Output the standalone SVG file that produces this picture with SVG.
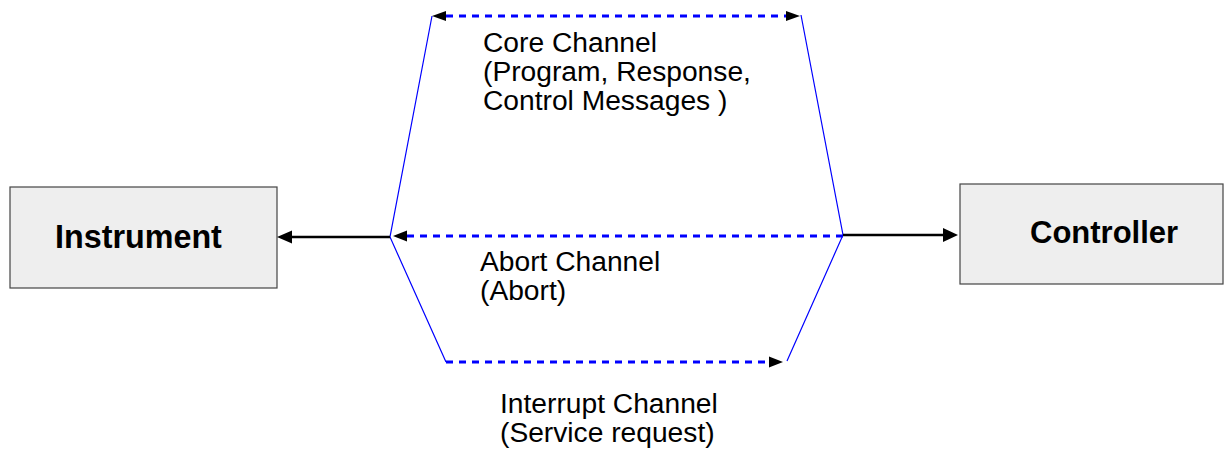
<svg xmlns="http://www.w3.org/2000/svg" width="1224" height="450" viewBox="0 0 1224 450">
<style>
.box{fill:#eeeeee;stroke:#444444;stroke-width:1.2}
.bold{font-family:"Liberation Sans",Arial,sans-serif;font-weight:bold;font-size:31px;fill:#000}
.lbl{font-family:"Liberation Sans",Arial,sans-serif;font-size:28.2px;fill:#000}
.blue{stroke:#0000ff;stroke-width:1.2;fill:none}
.dash{stroke:#0000ff;stroke-width:2.8;stroke-dasharray:7,6;fill:none}
.solid{stroke:#000;stroke-width:2.4;fill:none}
.head{fill:#000}
</style>
<g id="instrument">
<rect class="box" x="10" y="187" width="267" height="101"/>
<text class="bold" x="55" y="248" style="font-size:32.3px">Instrument</text>
</g>
<g id="controller">
<rect class="box" x="960" y="184" width="263" height="100"/>
<text class="bold" x="1030" y="243">Controller</text>
</g>
<g id="connectors">
<polyline class="blue" points="432,16 390,237 446,362"/>
<polyline class="blue" points="801,15 843,235 787,361"/>
<line class="dash" x1="446" y1="16" x2="787" y2="16"/>
<path class="head" d="M432,16 L446,11 L446,21 z"/>
<path class="head" d="M800,16 L786,11 L786,21 z"/>
<line class="dash" x1="843" y1="236" x2="406" y2="236"/>
<path class="head" d="M393,236 L407,230.5 L407,241.5 z"/>
<line class="dash" x1="446" y1="362" x2="770" y2="362"/>
<path class="head" d="M783,362 L769,356.5 L769,367.5 z"/>
<line class="solid" x1="390" y1="237" x2="290" y2="237"/>
<path class="head" d="M277,237 L292,230.5 L292,243.5 z"/>
<line class="solid" x1="843" y1="235" x2="945" y2="235"/>
<path class="head" d="M958,235 L943,228 L943,242 z"/>
</g>
<g id="labels">
<text class="lbl" x="483" y="52">Core Channel</text>
<text class="lbl" x="483" y="81">(Program, Response,</text>
<text class="lbl" x="483" y="110">Control Messages )</text>
<text class="lbl" x="480" y="271">Abort Channel</text>
<text class="lbl" x="480" y="300">(Abort)</text>
<text class="lbl" x="500" y="413">Interrupt Channel</text>
<text class="lbl" x="500" y="442">(Service request)</text>
</g>
</svg>
